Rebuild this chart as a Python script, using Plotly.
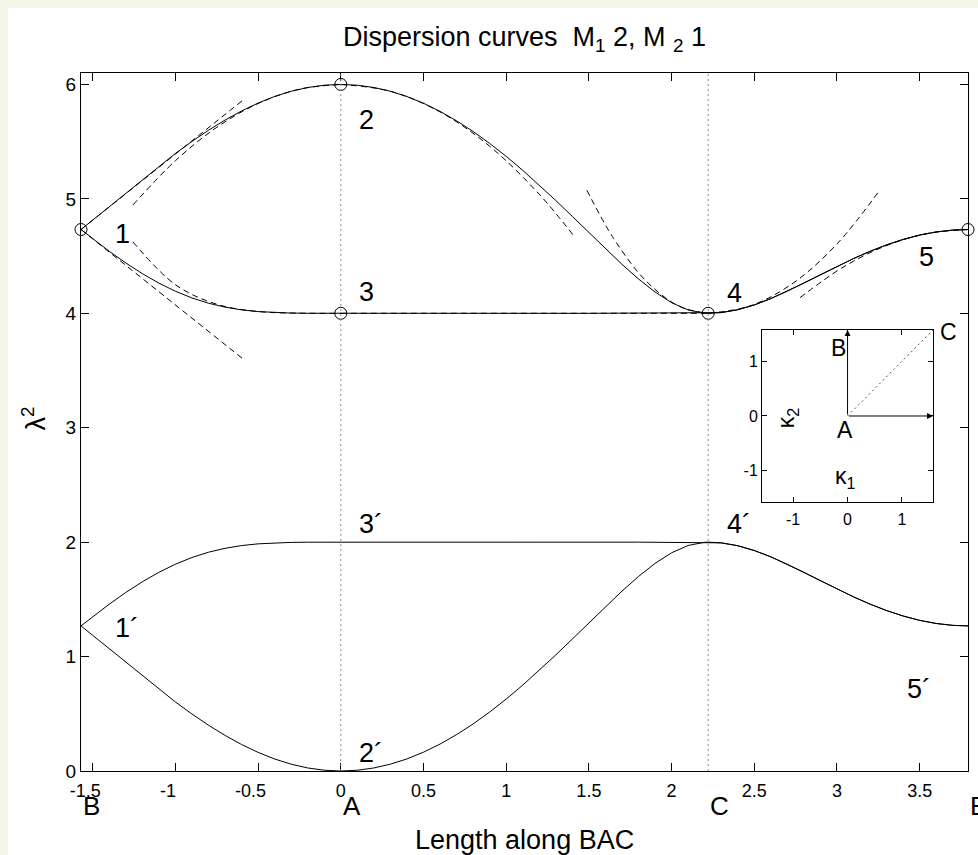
import plotly.graph_objects as go

FONT = "Liberation Sans, Arial, Helvetica, sans-serif"

# ---------------------------------------------------------------------------
# Dispersion branches, sampled along the path B -> A -> C -> B
# ---------------------------------------------------------------------------
path_len = [
    -1.5708, -1.5, -1.4, -1.3, -1.2, -1.1, -1.0, -0.9, -0.8, -0.7, -0.6,
    -0.5, -0.4, -0.3, -0.2, -0.1, 0.0,
    0.1, 0.2, 0.3, 0.4, 0.5, 0.6, 0.7, 0.8, 0.9, 1.0, 1.1, 1.2, 1.3, 1.4,
    1.5, 1.6, 1.7, 1.8, 1.9, 2.0, 2.1, 2.2, 2.2214,
    2.3, 2.4, 2.5, 2.6, 2.7, 2.8, 2.9, 3.0, 3.1, 3.2, 3.3, 3.4, 3.5,
    3.6, 3.7, 3.7922,
]

lam2_1_2_4_5 = [
    4.7321, 4.8147, 4.9333, 5.0526, 5.1707, 5.2860, 5.3969, 5.5018, 5.5996,
    5.6887, 5.7683, 5.8374, 5.8950, 5.9405, 5.9734, 5.9933, 6.0000,
    5.9933, 5.9734, 5.9403, 5.8943, 5.8357, 5.7648, 5.6823, 5.5888, 5.4848,
    5.3715, 5.2496, 5.1205, 4.9855, 4.8463, 4.7051, 4.5646, 4.4280, 4.2999,
    4.1858, 4.0930, 4.0290, 4.0009, 4.0000,
    4.0061, 4.0311, 4.0730, 4.1284, 4.1934, 4.2642, 4.3372, 4.4094, 4.4783,
    4.5417, 4.5979, 4.6455, 4.6835, 4.7109, 4.7272, 4.7321,
]

lam2_1_3_4 = [
    4.7321, 4.6514, 4.5420, 4.4398, 4.3465, 4.2638, 4.1928, 4.1342, 4.0881,
    4.0539, 4.0300, 4.0149, 4.0062, 4.0020, 4.0004, 4.0000, 4.0000,
    4.0, 4.0, 4.0, 4.0, 4.0, 4.0, 4.0, 4.0, 4.0, 4.0, 4.0,
    4.0, 4.0, 4.0, 4.0, 4.0, 4.0, 4.0, 4.0, 4.0, 4.0, 4.0, 4.0,
    4.0061, 4.0311, 4.0730, 4.1284, 4.1934, 4.2642, 4.3372, 4.4094, 4.4783,
    4.5417, 4.5979, 4.6455, 4.6835, 4.7109, 4.7272, 4.7321,
]

lam2_1p_3p_4p_5p = [
    1.2679, 1.3486, 1.4580, 1.5602, 1.6535, 1.7362, 1.8072, 1.8658, 1.9119,
    1.9461, 1.9700, 1.9851, 1.9938, 1.9980, 1.9996, 2.0000, 2.0000,
    2.0, 2.0, 2.0, 2.0, 2.0, 2.0, 2.0, 2.0, 2.0, 2.0, 2.0,
    2.0, 2.0, 2.0, 2.0, 2.0, 2.0, 2.0, 2.0, 2.0, 2.0, 2.0, 2.0,
    1.9939, 1.9689, 1.9270, 1.8716, 1.8066, 1.7358, 1.6628, 1.5906, 1.5217,
    1.4583, 1.4021, 1.3545, 1.3165, 1.2891, 1.2728, 1.2679,
]

lam2_1p_2p_4p = [
    1.2679, 1.1853, 1.0667, 0.9474, 0.8293, 0.7140, 0.6031, 0.4982, 0.4004,
    0.3113, 0.2317, 0.1626, 0.1050, 0.0595, 0.0266, 0.0067, 0.0000,
    0.0067, 0.0266, 0.0597, 0.1057, 0.1643, 0.2352, 0.3177, 0.4112, 0.5152,
    0.6285, 0.7504, 0.8795, 1.0145, 1.1537, 1.2949, 1.4354, 1.5720, 1.7001,
    1.8142, 1.9070, 1.9710, 1.9991, 2.0000,
    1.9939, 1.9689, 1.9270, 1.8716, 1.8066, 1.7358, 1.6628, 1.5906, 1.5217,
    1.4583, 1.4021, 1.3545, 1.3165, 1.2891, 1.2728, 1.2679,
]

# high-symmetry points on the path
sym_names = ["B", "A", "C", "B"]
sym_pos = [-1.5708, 0.0, 2.2214, 3.7922]

# circled degenerate / extremal points
circ_pos = [-1.5708, 0.0, 0.0, 2.2214, 3.7922]
circ_lam2 = [4.7321, 6.0, 4.0, 4.0, 4.7321]

# local asymptotic approximations near the high-symmetry points (dashed)
tanB_pos = [-1.5708, -0.59]
tanB_upper = [4.7321, 5.8646]
tanB_lower = [4.7321, 3.5996]

nearA_left_pos = [-1.2566, -1.0, -0.75, -0.5, -0.25, 0.0]
nearA_left_upper = [4.9473, 5.3333, 5.6250, 5.8333, 5.9583, 6.0]
nearA_left_lower = [4.6234, 4.2500, 4.0791, 4.0156, 4.0010, 4.0]

nearA_right_pos = [0.0, 0.3, 0.6, 0.9, 1.2, 1.415]
nearA_right_upper = [6.0, 5.94, 5.76, 5.46, 5.04, 4.6652]

flatAC_pos = [0.0, 2.2214]
flatAC_lam2 = [4.0, 4.0]

nearC_left_pos = [1.488, 1.65, 1.85, 2.05, 2.2214]
nearC_left_lam2 = [5.0758, 4.6530, 4.2759, 4.0588, 4.0]

nearC_right_pos = [2.2214, 2.48, 2.74, 3.0, 3.2614]
nearC_right_lam2 = [4.0, 4.0669, 4.2689, 4.6062, 5.0816]

nearB_right_pos = [2.777, 3.03, 3.28, 3.54, 3.7922]
nearB_right_lam2 = [4.1371, 4.3967, 4.5806, 4.6954, 4.7321]

# branch labels
lbl_text = ["1", "2", "3", "4", "5", "1´", "2´", "3´", "4´", "5´"]
lbl_pos = [-1.38, 0.1, 0.1, 2.32, 3.485, -1.38, 0.1, 0.1, 2.32, 3.41]
lbl_lam2 = [4.69, 5.69, 4.19, 4.18, 4.49, 1.25, 0.16, 2.16, 2.16, 0.72]

# main axis ticks
x_ticks = [-1.5, -1, -0.5, 0, 0.5, 1, 1.5, 2, 2.5, 3, 3.5]
x_tick_text = ["-1.5", "-1", "-0.5", "0", "0.5", "1", "1.5", "2", "2.5", "3", "3.5"]
y_ticks = [0, 1, 2, 3, 4, 5, 6]
y_max = 6.1

# inset: irreducible part of the Brillouin zone
bz_lim = 1.5708
bz_ticks = [-1, 0, 1]
bz_tick_text = ["-1", "0", "1"]
bz_names = ["A", "B", "C"]
bz_k1 = [0.0, 0.0, 1.5708]
bz_k2 = [0.0, 1.5708, 1.5708]
bz_arrow_k1 = [0.0, 1.5708]
bz_arrow_k2 = [1.5708, 0.0]

# ---------------------------------------------------------------------------
fig = go.Figure()

solid = dict(color="black", width=1)
dashed = dict(color="black", width=1, dash="6px,4px", shape="spline", smoothing=1)

for branch in (lam2_1_2_4_5, lam2_1_3_4, lam2_1p_3p_4p_5p, lam2_1p_2p_4p):
    fig.add_trace(go.Scatter(x=path_len, y=branch, mode="lines", line=solid,
                             hoverinfo="skip", showlegend=False))

for xs, ys in [
    (tanB_pos, tanB_upper), (tanB_pos, tanB_lower),
    (nearA_left_pos, nearA_left_upper), (nearA_left_pos, nearA_left_lower),
    (nearA_right_pos, nearA_right_upper), (flatAC_pos, flatAC_lam2),
    (nearC_left_pos, nearC_left_lam2), (nearC_right_pos, nearC_right_lam2),
    (nearB_right_pos, nearB_right_lam2),
]:
    fig.add_trace(go.Scatter(x=xs, y=ys, mode="lines", line=dashed,
                             hoverinfo="skip", showlegend=False))

fig.add_trace(go.Scatter(
    x=circ_pos, y=circ_lam2, mode="markers", cliponaxis=False,
    marker=dict(symbol="circle-open", size=12, color="black", line=dict(width=1)),
    hoverinfo="skip", showlegend=False))

# dotted verticals through A and C
for sx in sym_pos[1:3]:
    fig.add_shape(type="line", x0=sx, x1=sx, y0=0, y1=1, xref="x", yref="y domain",
                  line=dict(color="#8a8a8a", width=1, dash="2px,3px"))

# inset: dotted diagonal A -> C
fig.add_trace(go.Scatter(
    x=[bz_k1[0], bz_k1[2]], y=[bz_k2[0], bz_k2[2]], xaxis="x2", yaxis="y2",
    mode="lines", line=dict(color="#555555", width=1, dash="2px,3px"),
    hoverinfo="skip", showlegend=False))

annotations = []

# arrows along the reciprocal axes
for k1, k2 in zip(bz_arrow_k1, bz_arrow_k2):
    annotations.append(dict(
        x=k1, y=k2, ax=bz_k1[0], ay=bz_k2[0], xref="x2", yref="y2",
        axref="x2", ayref="y2", text="", showarrow=True, arrowhead=2,
        arrowsize=1.2, arrowwidth=1, arrowcolor="black", standoff=0))

# inset point names (placed relative to the inset frame)
inset_lbl_fx = [0.485, 0.445, 1.088]
inset_lbl_fy = [0.42, 0.895, 0.99]
centered = dict(xanchor="center", yanchor="middle", showarrow=False)
for name, fx, fy in zip(bz_names, inset_lbl_fx, inset_lbl_fy):
    annotations.append(dict(x=fx, y=fy, xref="x2 domain", yref="y2 domain", text=name,
                            font=dict(size=23, color="black"), **centered))
annotations.append(dict(x=0.147, y=0.488, xref="x2 domain", yref="y2 domain",
                        text="κ<sub>2</sub>", textangle=-90,
                        font=dict(size=23, color="black"), **centered))
annotations.append(dict(x=0.49, y=0.145, xref="x2 domain", yref="y2 domain",
                        text="κ<sub>1</sub>",
                        font=dict(size=23, color="black"), **centered))

# branch labels
for t, xp, yp in zip(lbl_text, lbl_pos, lbl_lam2):
    annotations.append(dict(x=xp, y=yp, xref="x", yref="y", text=t, xanchor="left",
                            yanchor="middle", showarrow=False,
                            font=dict(size=27, color="black")))

# symmetry point names under the axis
for name, sx in zip(sym_names, sym_pos):
    annotations.append(dict(x=sx, y=-0.306 / y_max, xref="x", yref="paper", text=name,
                            xanchor="left", yanchor="middle", showarrow=False,
                            font=dict(size=26, color="black")))

# axis titles
annotations.append(dict(x=0.5, y=-0.099, xref="paper", yref="paper",
                        text="Length along BAC",
                        font=dict(size=27, color="black"), **centered))
annotations.append(dict(x=-0.054, y=0.505, xref="paper", yref="paper",
                        text="λ<sup>2</sup>", textangle=-90,
                        font=dict(size=27, color="black"), **centered))

nb = "\u00a0"
x_tick_labels = [t + nb * 3 if t.startswith("-") else t for t in x_tick_text]

axis_common = dict(showgrid=False, zeroline=False, showline=True, linecolor="black",
                   linewidth=1, mirror="ticks", ticks="inside", tickcolor="black",
                   tickwidth=1)

fig.update_layout(
    width=978, height=855, autosize=False,
    margin=dict(l=81, r=10, t=73, b=84),
    paper_bgcolor="#f5f5e8", plot_bgcolor="white",
    font=dict(family=FONT, color="black"),
    title=dict(text="Dispersion curves" + nb * 2 + "M<sub>1</sub> 2, M <sub>2</sub> 1",
               x=0.5, xref="paper", xanchor="center",
               y=1 - 37 / 855, yref="container", yanchor="middle",
               font=dict(size=27, color="black")),
    xaxis=dict(range=[sym_pos[0], sym_pos[-1]], tickvals=x_ticks,
               ticktext=x_tick_labels, ticklen=8, tickfont=dict(size=18),
               ticklabelstandoff=3, automargin=False, **axis_common),
    yaxis=dict(range=[0, y_max], tickvals=y_ticks, ticklen=8, tickfont=dict(size=19),
               automargin=False, **axis_common),
    xaxis2=dict(domain=[0.7678, 0.9606], anchor="y2", range=[-bz_lim, bz_lim],
                tickvals=bz_ticks, ticktext=bz_tick_text, ticklen=5,
                tickfont=dict(size=16), ticklabelstandoff=3, automargin=False,
                **axis_common),
    yaxis2=dict(domain=[0.3854, 0.6318], anchor="x2", range=[-bz_lim, bz_lim],
                tickvals=bz_ticks, ticktext=bz_tick_text, ticklen=5,
                tickfont=dict(size=16), automargin=False, **axis_common),
    annotations=annotations,
    showlegend=False,
)

# white figure sheet with a thin cream border at top and left
fig.add_shape(type="rect", xref="paper", yref="paper", layer="below",
              x0=-0.0823, x1=1.2, y0=-0.3, y1=1.0931,
              fillcolor="white", line=dict(width=0))

fig.write_html("out.html")
